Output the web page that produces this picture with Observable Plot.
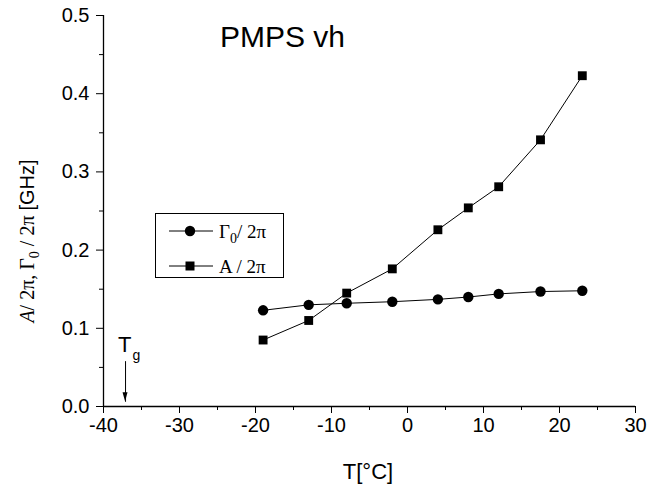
<!DOCTYPE html>
<html>
<head>
<meta charset="utf-8">
<script src="https://cdn.jsdelivr.net/npm/d3@7"></script>
<script src="https://cdn.jsdelivr.net/npm/@observablehq/plot@0.6"></script>
<style>
  html, body { margin: 0; padding: 0; background: #fff; }
</style>
</head>
<body>
<div id="chart"></div>
<script>
// Temperatures (°C) of the measurements
const temperatures = [-19, -13, -8, -2, 4, 8, 12, 17.5, 23];
// Γ0 / 2π [GHz]
const gammaValues = [0.123, 0.130, 0.132, 0.134, 0.137, 0.140, 0.144, 0.147, 0.148];
// A / 2π [GHz]
const amplitudeValues = [0.085, 0.110, 0.145, 0.176, 0.226, 0.254, 0.281, 0.341, 0.423];

// Axis ticks
const xMajorTicks = [-40, -30, -20, -10, 0, 10, 20, 30];
const xMinorTicks = [-35, -25, -15, -5, 5, 15, 25];
const yMajorTicks = [0.0, 0.1, 0.2, 0.3, 0.4, 0.5];
const yMinorTicks = [0.05, 0.15, 0.25, 0.35, 0.45];

// Glass transition temperature marker
const glassTransition = [{T: -37.1, from: 0.058, to: 0.006}];

const gammaData = temperatures.map((T, i) => ({T, v: gammaValues[i]}));
const amplitudeData = temperatures.map((T, i) => ({T, v: amplitudeValues[i]}));

const SANS = "'Liberation Sans', Arial, sans-serif";
const SERIF = "'Liberation Serif', 'Times New Roman', serif";

const plot = Plot.plot({
  width: 649,
  height: 485,
  marginLeft: 103,
  marginRight: 14,
  marginTop: 15,
  marginBottom: 79,
  style: {fontFamily: SANS, fontSize: "20px", color: "black", background: "white", overflow: "visible"},
  x: {domain: [-40, 30]},
  y: {domain: [0, 0.5]},
  marks: [
    Plot.axisX(xMajorTicks, {tickSize: 7, tickPadding: 4, fontSize: 20, label: null, tickFormat: d => String(d)}),
    Plot.axisX(xMinorTicks, {tickSize: 4, label: null, tickFormat: () => ""}),
    Plot.axisY(yMajorTicks, {tickSize: 7, tickPadding: 7, fontSize: 20, label: null, tickFormat: d => d.toFixed(1)}),
    Plot.axisY(yMinorTicks, {tickSize: 4, label: null, tickFormat: () => ""}),
    Plot.ruleY([0], {stroke: "black", strokeWidth: 1.3}),
    Plot.ruleX([-40], {stroke: "black", strokeWidth: 1.3}),
    Plot.line(gammaData, {x: "T", y: "v", stroke: "black", strokeWidth: 1}),
    Plot.line(amplitudeData, {x: "T", y: "v", stroke: "black", strokeWidth: 1}),
    Plot.dot(gammaData, {x: "T", y: "v", r: 5.2, fill: "black", stroke: "none"}),
    Plot.dot(amplitudeData, {x: "T", y: "v", r: 5, symbol: "square", fill: "black", stroke: "none"}),
    Plot.link(glassTransition, {x1: "T", x2: "T", y1: "from", y2: "to", stroke: "black", strokeWidth: 1})
  ]
});

document.getElementById("chart").appendChild(plot);

const svg = d3.select(plot);
const xs = plot.scale("x");
const ys = plot.scale("y");

// Filled arrowhead at the end of the Tg marker, with its label
glassTransition.forEach(g => {
  const px = xs.apply(g.T), py = ys.apply(g.to);
  svg.append("path")
    .attr("d", `M${px - 2.5},${py - 9}L${px + 2.5},${py - 9}L${px},${py}Z`)
    .attr("fill", "black");
  const t = svg.append("text")
    .attr("x", px - 7).attr("y", py - 49)
    .attr("text-anchor", "start")
    .attr("font-family", SANS).attr("font-size", 22).attr("fill", "black");
  t.append("tspan").text("T");
  t.append("tspan").attr("font-size", 14).attr("dx", 1).attr("dy", 8).text("g");
});

// Title
svg.append("text")
  .attr("x", 220).attr("y", 47)
  .attr("text-anchor", "start")
  .attr("font-family", SANS).attr("font-size", 30).attr("fill", "black")
  .text("PMPS vh");

// X axis label
svg.append("text")
  .attr("x", 368).attr("y", 479)
  .attr("text-anchor", "middle")
  .attr("font-family", SANS).attr("font-size", 22).attr("fill", "black")
  .text("T[°C]");

// Y axis label (mixed serif / sans with subscript)
const yl = svg.append("text")
  .attr("transform", "translate(34,241) rotate(-90)")
  .attr("text-anchor", "middle")
  .attr("font-family", SERIF).attr("font-size", 20).attr("fill", "black");
yl.append("tspan").attr("font-style", "italic").text("A");
yl.append("tspan").text("/ 2π, Γ");
yl.append("tspan").attr("font-size", 14).attr("dy", 5).text("0");
yl.append("tspan").attr("dy", -5).text(" / 2π ");
yl.append("tspan").attr("font-family", SANS).attr("font-size", 20).text("[GHz]");

// Legend
const legend = svg.append("g");
legend.append("rect")
  .attr("x", 155.5).attr("y", 213.5).attr("width", 128).attr("height", 64)
  .attr("fill", "white").attr("stroke", "black").attr("stroke-width", 1);
const rows = [
  {y: 231, symbol: "circle", label: "gamma"},
  {y: 266, symbol: "square", label: "amp"}
];
rows.forEach(r => {
  legend.append("line")
    .attr("x1", 169).attr("x2", 213).attr("y1", r.y).attr("y2", r.y)
    .attr("stroke", "black").attr("stroke-width", 1);
  if (r.symbol === "circle") {
    legend.append("circle").attr("cx", 190).attr("cy", r.y).attr("r", 5.2).attr("fill", "black");
  } else {
    legend.append("rect").attr("x", 185.5).attr("y", r.y - 4.5).attr("width", 9).attr("height", 9).attr("fill", "black");
  }
  const t = legend.append("text")
    .attr("x", 219).attr("y", r.y + 6.5)
    .attr("text-anchor", "start")
    .attr("font-family", SERIF).attr("font-size", 19).attr("fill", "black");
  if (r.label === "gamma") {
    t.append("tspan").text("Γ");
    t.append("tspan").attr("font-size", 14).attr("dy", 5).text("0");
    t.append("tspan").attr("dy", -5).text("/ 2π");
  } else {
    t.text("A / 2π");
  }
});
</script>
</body>
</html>
